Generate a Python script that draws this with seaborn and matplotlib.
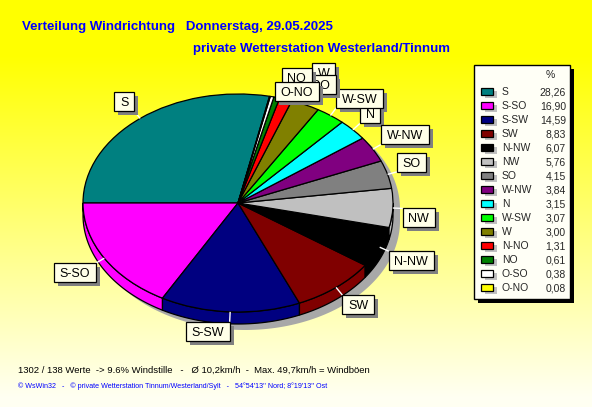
import numpy as np
import pandas as pd
import matplotlib
matplotlib.use("Agg")
import matplotlib.pyplot as plt
import seaborn as sns
from matplotlib.patches import Rectangle, Polygon

# Wind direction shares (percent), in pie order
directions = ["S", "S-SO", "S-SW", "SW", "N-NW", "NW", "SO", "W-NW",
              "N", "W-SW", "W", "N-NO", "NO", "O-SO", "O-NO"]
shares = [28.26, 16.90, 14.59, 8.83, 6.07, 5.76, 4.15, 3.84,
          3.15, 3.07, 3.00, 1.31, 0.61, 0.38, 0.08]
slice_colors = ["#008080", "#FF00FF", "#000080", "#800000", "#000000",
                "#C0C0C0", "#808080", "#800080", "#00FFFF", "#00FF00",
                "#808000", "#FF0000", "#008000", "#FFFFFF", "#FFFF00"]

title_left = "Verteilung Windrichtung   Donnerstag, 29.05.2025"
title_right = "private Wetterstation Westerland/Tinnum"
summary = ("1302 / 138 Werte  -> 9.6% Windstille   -   \u00d8 10,2km/h  -  "
           "Max. 49,7km/h = Windb\u00f6en")
credits = ("\u00a9 WsWin32   -   \u00a9 private Wetterstation Tinnum/Westerland/Sylt"
           "   -   54\u00b054'13'' Nord; 8\u00b019'13'' Ost")

df = pd.DataFrame({"dir": directions, "pct": shares, "color": slice_colors})

sns.set_theme(style="white")
plt.rcParams["font.family"] = ["Liberation Sans", "DejaVu Sans"]

W, H = 592, 407
CX, CY, RX, RY = 238.0, 203.0, 155.0, 109.0   # pie ellipse in pixels
DEPTH = 12.0                                  # height of the pie's rim
SHADOW = (7.0, 6.0)

fig = plt.figure(figsize=(W / 100, H / 100), dpi=100)

# ---- background: yellow fading to cream towards the bottom
bg = fig.add_axes([0, 0, 1, 1], zorder=0)
bg.set_axis_off()
yy = np.arange(H)
fade = np.clip((yy - 55) / 360.0, 0, 0.95)
grad = np.ones((H, 1, 3))
grad[:, 0, 2] = fade
bg.imshow(grad, extent=[0, W, H, 0], aspect="auto", interpolation="bilinear")
bg.set_xlim(0, W)
bg.set_ylim(H, 0)

# ---- pie axes: unit circle maps onto the ellipse
pa = fig.add_axes([0, 0, 1, 1], zorder=1)
pa.patch.set_visible(False)

total = df["pct"].sum()
start = 180.0 - 360.0 * df["pct"].iloc[0] / total
edges = start + 360.0 * np.concatenate([[0.0], np.cumsum(df["pct"].values)]) / total
d = DEPTH / RY

# drop shadow of the whole disc
sx, sy = SHADOW[0] / RX, -SHADOW[1] / RY
t_up = np.radians(np.linspace(0, 180, 120))
t_dn = np.radians(np.linspace(180, 360, 120))
shadow_xy = np.vstack([
    np.column_stack([np.cos(t_up), np.sin(t_up)]),
    np.column_stack([np.cos(t_dn), np.sin(t_dn) - d]),
]) + [sx, sy]
pa.add_patch(Polygon(shadow_xy, closed=True, fc="#A8A8A8", ec="none", zorder=0.5))

# rim of the front half
for a, b, col in zip(edges[:-1], edges[1:], df["color"]):
    lo, hi = max(a, 180.0), min(b, 360.0)
    if hi <= lo:
        continue
    t = np.radians(np.linspace(lo, hi, 60))
    top = np.column_stack([np.cos(t), np.sin(t)])
    bot = np.column_stack([np.cos(t), np.sin(t) - d])[::-1]
    pa.add_patch(Polygon(np.vstack([top, bot]), closed=True, fc=col,
                         ec="black", lw=0.9, zorder=0.8))

pa.pie(df["pct"], colors=df["color"], startangle=start, counterclock=True,
       wedgeprops=dict(edgecolor="black", linewidth=0.9), frame=False)
pa.set_aspect("auto")
pa.set_xlim((0 - CX) / RX, (W - CX) / RX)
pa.set_ylim((CY - H) / RY, CY / RY)
pa.set_axis_off()

# ---- overlay in pixel coordinates
ov = fig.add_axes([0, 0, 1, 1], zorder=2)
ov.patch.set_visible(False)
ov.set_xlim(0, W)
ov.set_ylim(H, 0)
ov.set_axis_off()
renderer = fig.canvas.get_renderer()

LABEL_FS = 9
BOX_H = 19.0
PAD_X = 5.5
LEAD = 10.0

# crowded small slices get hand-placed boxes: (corner, x, y, zorder)
placed = {
    "W": ("left", 312, 63, 3),
    "O-SO": ("right", 336, 75, 4),
    "NO": ("left", 282, 68, 5),
    "O-NO": ("left", 275, 82, 6),
}
hidden = {"N-NO"}


def text_width(s, **kw):
    t = ov.text(0, 0, s, **kw)
    w = t.get_window_extent(renderer=renderer).width
    t.remove()
    return w


for (a, b), name in zip(zip(edges[:-1], edges[1:]), df["dir"]):
    if name in hidden:
        continue
    mid = np.radians((a + b) / 2)
    c, s = np.cos(mid), np.sin(mid)
    bw = text_width(name, fontsize=LABEL_FS) + 2 * PAD_X
    zo = 2
    if name in placed:
        side, qx, qy, zo = placed[name]
        left = qx if side == "left" else qx - bw
        top = qy
    else:
        px, py = CX + RX * c, CY - RY * s
        qx, qy = px + LEAD * c, py - LEAD * s
        ov.plot([px, qx], [py, qy], color="white", lw=1, zorder=1.5,
                solid_capstyle="butt")
        left = qx if c >= 0 else qx - bw
        top = qy - BOX_H if s >= 0 else qy
    ov.add_patch(Rectangle((left + 4, top + 4), bw, BOX_H, fc="#808080",
                           ec="none", zorder=zo))
    ov.add_patch(Rectangle((left, top), bw, BOX_H, fc="#FFFFE8",
                           ec="black", lw=0.9, zorder=zo + 0.1))
    ov.text(left + bw / 2, top + 14, name, fontsize=LABEL_FS, ha="center",
            va="baseline", color="black", zorder=zo + 0.2)

# ---- legend
LX, LY, LW, LH = 474, 65, 96, 234
ov.add_patch(Rectangle((LX + 4, LY + 4), LW, LH, fc="black", ec="none", zorder=2))
ov.add_patch(Rectangle((LX, LY), LW, LH, fc="#FFFFF6", ec="black", lw=1,
                       zorder=2.1))
ov.text(550, 78, "%", fontsize=7.5, ha="center", va="baseline", zorder=3)
order = df.sort_values("pct", ascending=False, kind="stable")
for i, (name, pct, col) in enumerate(zip(order["dir"], order["pct"], order["color"])):
    yc = 91.5 + 14.0 * i
    ov.add_patch(Rectangle((485, yc - 0.5), 12, 6.5, fc="#C0C0C0", ec="none",
                           zorder=2.5))
    ov.add_patch(Rectangle((481, yc - 3.3), 12, 6.6, fc=col, ec="black",
                           lw=0.9, zorder=2.6))
    ov.text(502, yc + 3.6, name, fontsize=7.5, ha="left", va="baseline", zorder=3)
    ov.text(566, yc + 3.6, f"{pct:.2f}".replace(".", ","), fontsize=7.5,
            ha="right", va="baseline", zorder=3)

# ---- titles and footer
ov.text(22, 30, title_left, fontsize=9.5, fontweight="bold", color="#0000FF",
        ha="left", va="baseline")
ov.text(193, 52, title_right, fontsize=9.5, fontweight="bold", color="#0000FF",
        ha="left", va="baseline")
ov.text(18, 373, summary, fontsize=6.8, color="black", ha="left", va="baseline")
ov.text(18, 388, credits, fontsize=5.15, color="#0000FF", ha="left",
        va="baseline")

fig.savefig("out.png", dpi=100)
